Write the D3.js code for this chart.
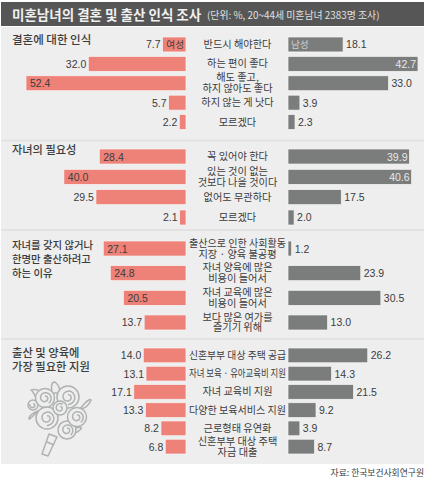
<!DOCTYPE html>
<html>
<head>
<meta charset="utf-8">
<script src="https://cdn.jsdelivr.net/npm/d3@7"></script>
<style>
html, body { margin: 0; padding: 0; background: #fff; }
svg text { font-family: "Noto Sans CJK KR", "Noto Sans", sans-serif; }
svg text.num { font-family: "Liberation Sans", Arial, sans-serif; }
</style>
</head>
<body>
<div class="chart"></div>
<script>
const width = 429, height = 485;

const titleText = "미혼남녀의 결혼 및 출산 인식 조사";
const subtitleText = "(단위: %, 20~44세 미혼남녀 2383명 조사)";
const sourceText = "자료: 한국보건사회연구원";

// section 1
const marriageHead = ["결혼에 대한 인식"];
const marriageLabels = [["반드시 해야한다"], ["하는 편이 좋다"], ["해도 좋고,", "하지 않아도 좋다"], ["하지 않는 게 낫다"], ["모르겠다"]];
const marriageWomen = [7.7, 32.0, 52.4, 5.7, 2.2];
const marriageMen = [18.1, 42.7, 33.0, 3.9, 2.3];

// section 2
const childHead = ["자녀의 필요성"];
const childLabels = [["꼭 있어야 한다"], ["있는 것이 없는", "것보다 나을 것이다"], ["없어도 무관하다"], ["모르겠다"]];
const childWomen = [28.4, 40.0, 29.5, 2.1];
const childMen = [39.9, 40.6, 17.5, 2.0];

// section 3
const reasonHead = ["자녀를 갖지 않거나", "한명만 출산하려고", "하는 이유"];
const reasonLabels = [["출산으로 인한 사회활동", "지장 · 양육 불공평"], ["자녀 양육에 많은", "비용이 들어서"], ["자녀 교육에 많은", "비용이 들어서"], ["보다 많은 여가를", "즐기기 위해"]];
const reasonWomen = [27.1, 24.8, 20.5, 13.7];
const reasonMen = [1.2, 23.9, 30.5, 13.0];

// section 4
const supportHead = ["출산 및 양육에", "가장 필요한 지원"];
const supportLabels = [["신혼부부 대상 주택 공급"], ["자녀 보육 · 유아교육비 지원"], ["자녀 교육비 지원"], ["다양한 보육서비스 지원"], ["근로형태 유연화"], ["신혼부부 대상 주택", "자금 대출"]];
const supportWomen = [14.0, 13.1, 17.1, 13.3, 8.2, 6.8];
const supportMen = [26.2, 14.3, 21.5, 9.2, 3.9, 8.7];

// women's values the original prints inside the bar (no clean threshold: 32.0 is outside)
const womenInside = [52.4, 40.0, 28.4, 27.1, 24.8, 20.5];

const pink = "#ee8278", gray = "#7b7d7d", panel = "#eeeeef", ink = "#3c3c3c", flower = "#b0b2b2";

const sections = [
  {head: marriageHead, labels: marriageLabels, women: marriageWomen, men: marriageMen, top: 37, bottom: 129.5, pad: 0.23, headY: 44, headSize: 11.5},
  {head: childHead, labels: childLabels, women: childWomen, men: childMen, top: 149, bottom: 225, pad: 0.26, headY: 154, headSize: 11.2},
  {head: reasonHead, labels: reasonLabels, women: reasonWomen, men: reasonMen, top: 241, bottom: 330, pad: 0.39, headY: 249, headSize: 10.4},
  {head: supportHead, labels: supportLabels, women: supportWomen, men: supportMen, top: 348, bottom: 454, pad: 0.19, headY: 357, headSize: 11.3}
];
const dividers = [139.5, 229, 338];

const svg = d3.select(".chart").append("svg")
  .attr("width", width).attr("height", height)
  .style("display", "block");

svg.append("rect").attr("x", 1).attr("y", 27).attr("width", 423).attr("height", 437).attr("fill", panel);
svg.selectAll(".divider").data(dividers).join("rect")
  .attr("x", 1).attr("y", d => d).attr("width", 423).attr("height", 2).attr("fill", "#e2e2e3");

svg.append("rect").attr("x", 1).attr("y", 2).attr("width", 423).attr("height", 24).attr("fill", "#555655");
svg.append("text").attr("x", 12).attr("y", 20).attr("font-size", 13.5).attr("font-weight", 700).attr("fill", "#f0f0f0").text(titleText);
svg.append("text").attr("x", 207).attr("y", 19).attr("font-size", 9.9).attr("fill", "#e0e0e0").text(subtitleText);

const womenX = d3.scaleLinear().domain([0, 52.4]).range([186, 26]);
const menX = d3.scaleLinear().domain([0, 42.7]).range([288, 418]);

sections.forEach(sec => {
  const y = d3.scaleBand().domain(d3.range(sec.labels.length))
    .range([sec.top, sec.bottom]).paddingInner(sec.pad);
  const g = svg.append("g");

  g.selectAll(".w").data(sec.women).join("rect")
    .attr("x", d => womenX(d)).attr("y", (d, i) => y(i))
    .attr("width", d => womenX(0) - womenX(d)).attr("height", y.bandwidth())
    .attr("fill", pink).attr("stroke", "#f6f6f6").attr("stroke-width", 0.7);
  g.selectAll(".m").data(sec.men).join("rect")
    .attr("x", menX(0)).attr("y", (d, i) => y(i))
    .attr("width", d => menX(d) - menX(0)).attr("height", y.bandwidth())
    .attr("fill", gray).attr("stroke", "#f6f6f6").attr("stroke-width", 0.7);

  g.selectAll(".wv").data(sec.women).join("text").attr("class", "num")
    .attr("x", d => womenInside.includes(d) ? womenX(d) + 4 : womenX(d) - 2)
    .attr("y", (d, i) => y(i) + y.bandwidth() / 2 + 4)
    .attr("text-anchor", d => womenInside.includes(d) ? "start" : "end")
    .attr("font-size", 10.5).attr("fill", ink).text(d => d.toFixed(1));
  g.selectAll(".mv").data(sec.men).join("text").attr("class", "num")
    .attr("x", d => d >= 39 ? menX(d) - 2 : menX(d) + 3)
    .attr("y", (d, i) => y(i) + y.bandwidth() / 2 + 4)
    .attr("text-anchor", d => d >= 39 ? "end" : "start")
    .attr("font-size", 10.5).attr("fill", d => d >= 39 ? "#e8e8e8" : ink).text(d => d.toFixed(1));

  sec.labels.forEach((lines, i) => {
    const cy = y(i) + y.bandwidth() / 2;
    const t = g.append("text").attr("text-anchor", "middle").attr("font-size", 10.2).attr("fill", ink);
    lines.forEach((line, k) => {
      const span = t.append("tspan").attr("x", 237.5)
        .attr("y", cy + 3.6 + (k - (lines.length - 1) / 2) * 10.8).text(line);
      // the long labels are squeezed to the gap between the bars in the original
      if (span.node().getComputedTextLength() > 97) {
        span.attr("textLength", 97).attr("lengthAdjust", "spacingAndGlyphs");
      }
    });
  });

  const h = g.append("text").attr("font-size", sec.headSize).attr("font-weight", 500).attr("fill", ink);
  sec.head.forEach((line, k) => {
    h.append("tspan").attr("x", 12).attr("y", sec.headY + k * 14).text(line);
  });
});

// series tags inside the first row
svg.append("text").attr("x", womenX(0) - 2).attr("y", 48.2).attr("text-anchor", "end").attr("font-size", 9.6).attr("fill", ink).text("여성");
svg.append("text").attr("x", menX(0) + 3).attr("y", 48.2).attr("font-size", 9.6).attr("fill", "#cfcfcf").text("남성");

svg.append("text").attr("x", 424).attr("y", 475.5).attr("text-anchor", "end").attr("font-size", 8.8).attr("fill", ink).text(sourceText);

// bouquet decoration
const deco = svg.append("g").attr("fill", panel).attr("stroke", flower).attr("stroke-width", 1.5).attr("stroke-linejoin", "round");

deco.append("path").attr("d", "M49 434 L57 437 L48 456 L42 454 Z");
deco.append("path").attr("d", "M47 442 L54 445").attr("fill", "none");

const leaves = [
  "M52 393 Q50 382 55 382 Q60 386 60 393 Z",
  "M36 398 Q33 391 31 390 Q40 388 44 396 Z",
  "M84 404 Q90 398 91 400 Q88 408 80 409 Z",
  "M34 415 Q28 421 29 418 Q30 414 38 411 Z",
  "M76 428 Q84 426 80 430 Q76 434 72 432 Z"
];
deco.selectAll(".leaf").data(leaves).join("path").attr("d", d => d);

const roses = [
  {x: 33, y: 405, r: 5, turns: 0.8},
  {x: 45, y: 398, r: 9.5, turns: 1.4},
  {x: 68, y: 397, r: 11, turns: 1.5},
  {x: 67, y: 430, r: 9, turns: 1.4},
  {x: 77, y: 417, r: 9.5, turns: 1.4},
  {x: 47, y: 418, r: 11, turns: 1.5},
  {x: 60, y: 408, r: 7, turns: 1.1}
];
const spiral = d3.lineRadial().curve(d3.curveCatmullRom);
roses.forEach(f => {
  const steps = Math.round(f.turns * 10);
  const pts = d3.range(steps + 1).map(i => {
    const t = i / steps;
    return [t * f.turns * 2 * Math.PI, f.r * (0.2 + 0.5 * t)];
  });
  const rose = deco.append("g").attr("transform", `translate(${f.x},${f.y})`);
  rose.append("circle").attr("r", f.r);
  rose.append("path").attr("d", spiral(pts)).attr("fill", "none");
});
</script>
</body>
</html>
